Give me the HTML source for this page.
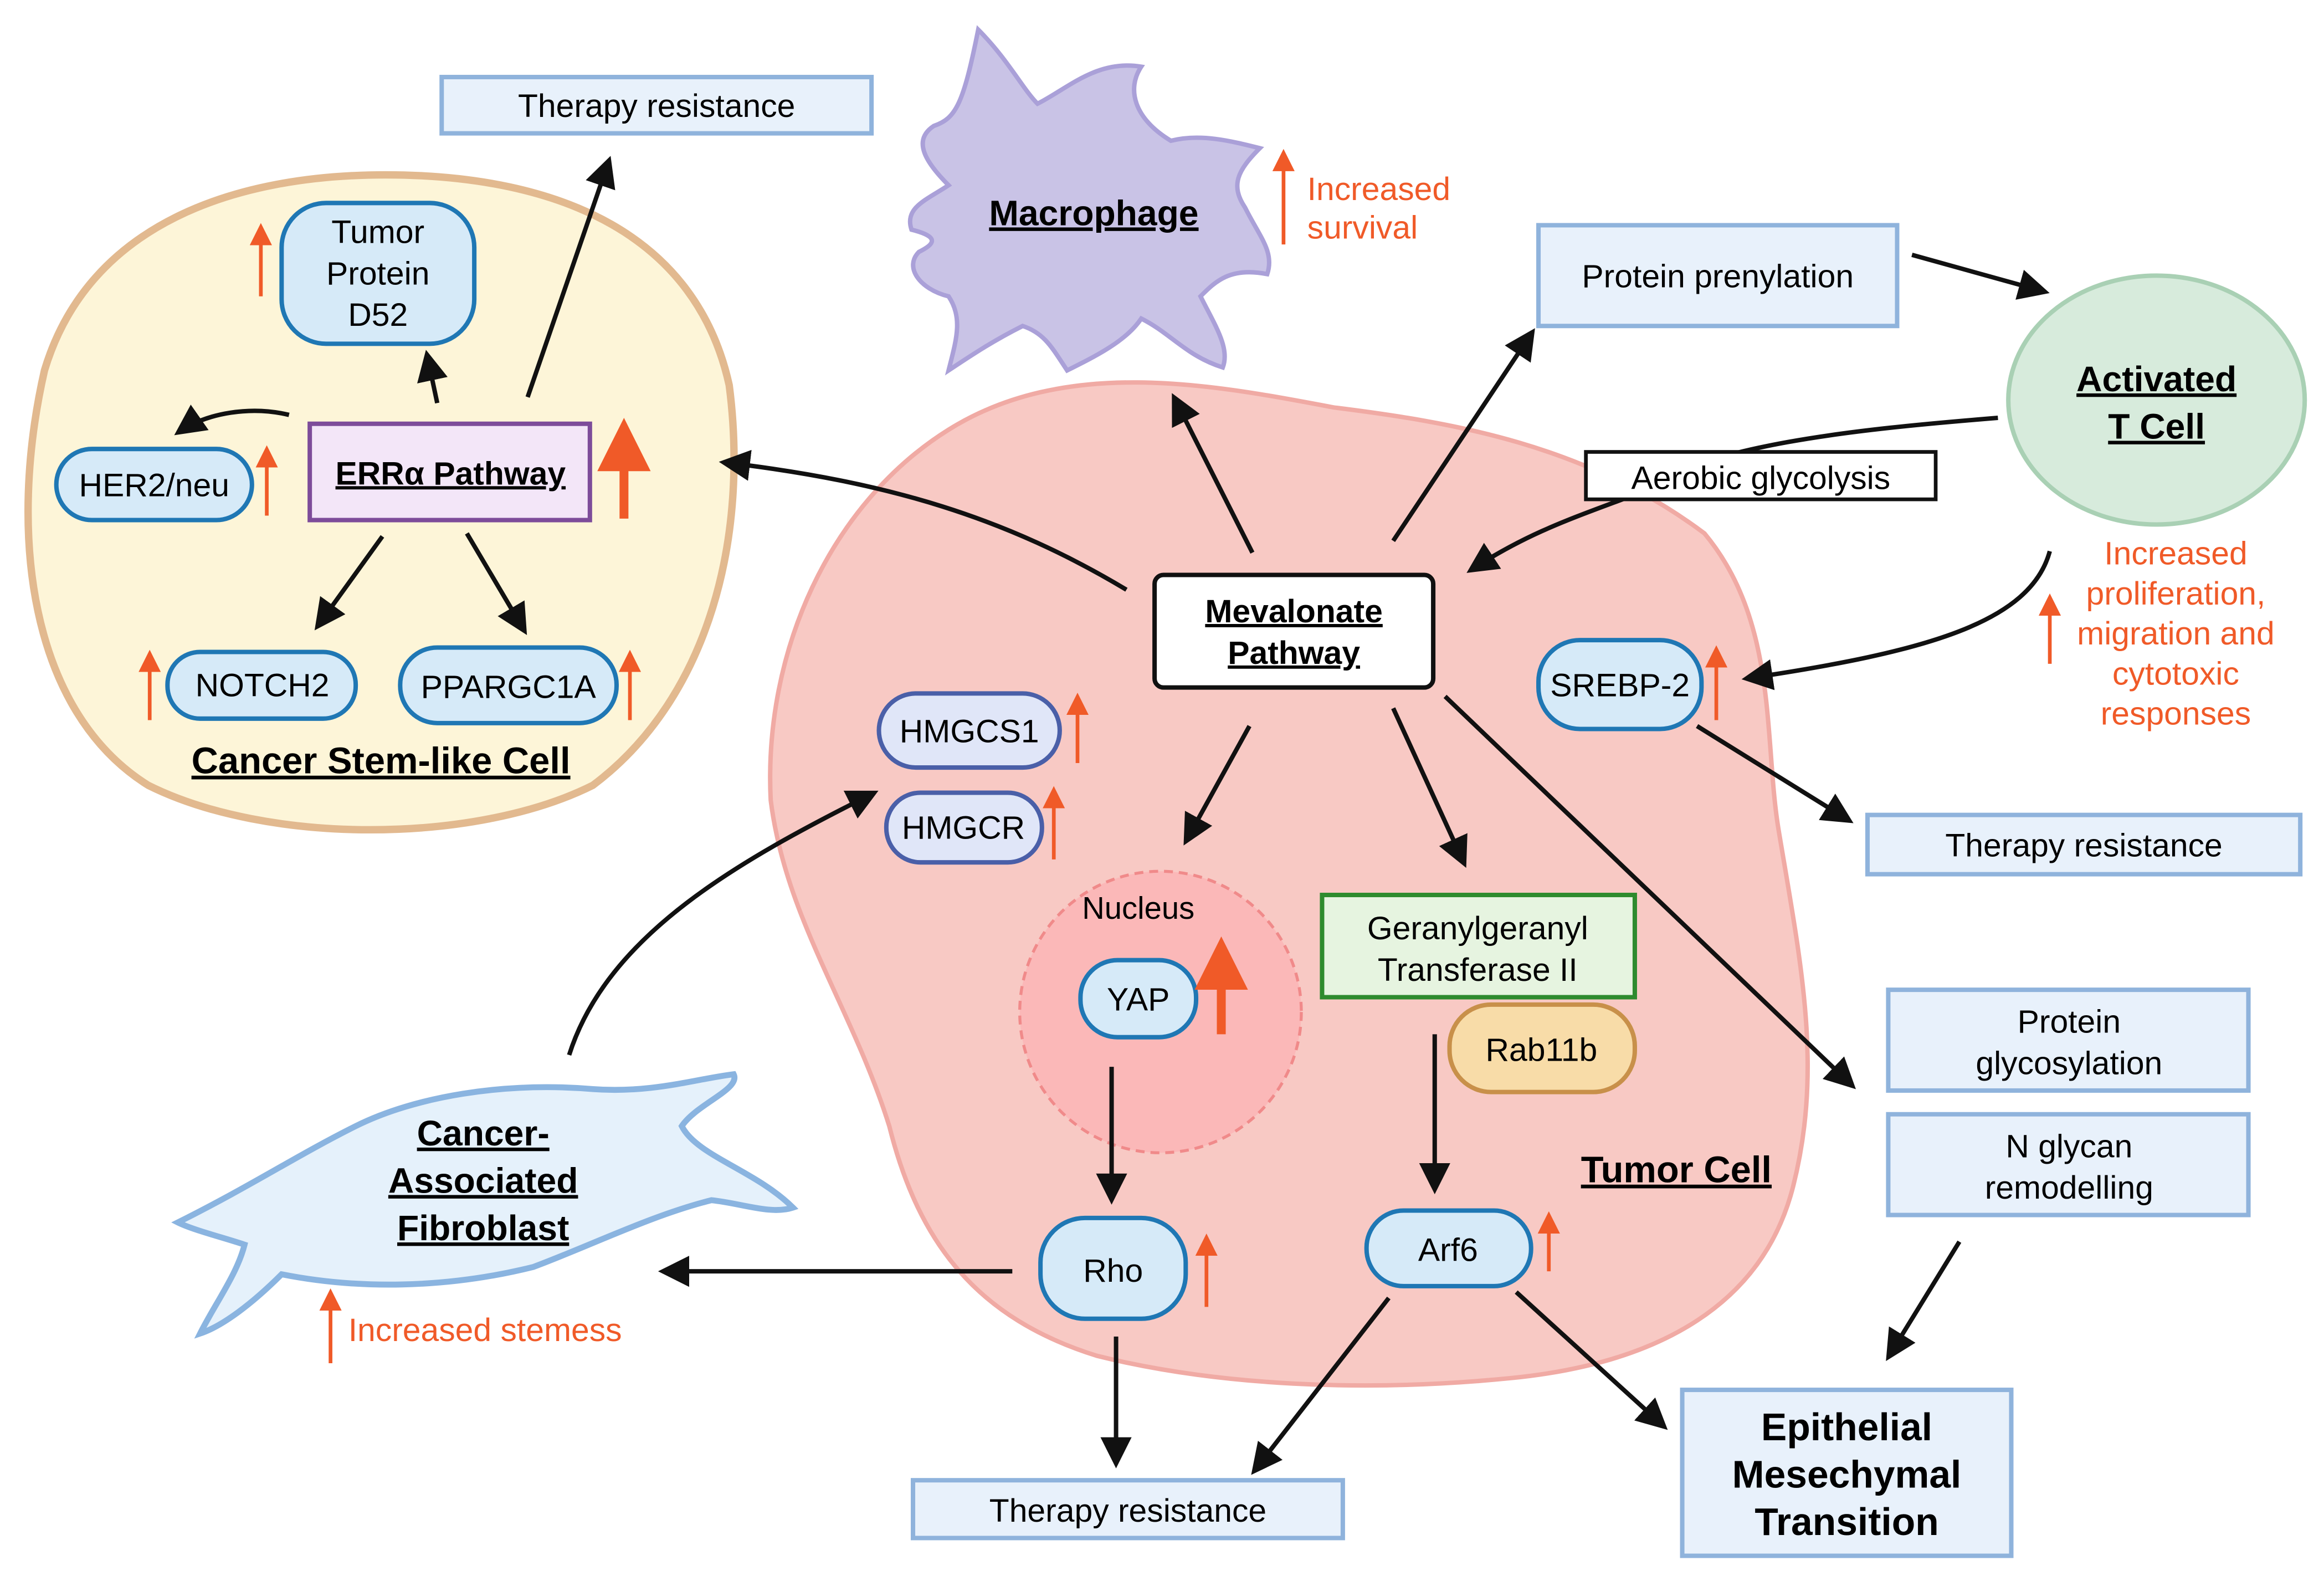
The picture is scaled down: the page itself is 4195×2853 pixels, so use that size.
<!DOCTYPE html>
<html><head><meta charset="utf-8"><style>
html,body{margin:0;padding:0;background:#fff;}
svg{display:block;}
text{font-family:"Liberation Sans",sans-serif;}
</style></head><body>
<svg width="4195" height="2853" viewBox="0 0 1568 1067" preserveAspectRatio="none" xmlns="http://www.w3.org/2000/svg">
<defs>
<marker id="a" markerWidth="8" markerHeight="8" refX="6" refY="4" orient="auto" markerUnits="strokeWidth"><path d="M0,0.5 L7,4 L0,7.5 z" fill="#111"/></marker>
<marker id="r" markerWidth="6" markerHeight="6" refX="3" refY="3" orient="auto" markerUnits="strokeWidth"><path d="M0,0 L6,3 L0,6 z" fill="#f05a28"/></marker>
</defs>
<rect width="1568" height="1067" fill="#fff"/>

<!-- Tumor cell -->
<path d="M640,290 C720,240 820,260 900,275 C980,285 1070,300 1150,360 C1200,420 1190,500 1200,560 C1215,650 1230,720 1210,800 C1190,880 1120,920 1020,930 C920,940 820,935 740,915 C660,890 620,840 600,760 C575,680 530,620 520,540 C515,440 560,340 640,290 Z" fill="#f8c9c4" stroke="#f0aaa4" stroke-width="3"/>

<!-- CSC cell -->
<path d="M30,250 C60,150 160,118 260,118 C380,118 470,160 492,260 C505,360 480,470 400,530 C320,570 180,570 100,530 C20,480 5,360 30,250 Z" fill="#fdf5d8" stroke="#e2b98f" stroke-width="5"/>

<!-- Macrophage -->
<path d="M660,20 C680,40 690,60 700,70 C720,60 740,40 770,45 C760,60 765,80 790,95 C810,90 830,95 850,100 C835,115 830,125 840,140 C850,160 860,170 855,185 C830,180 820,190 810,200 C820,220 830,235 825,248 C800,240 790,225 770,215 C760,230 740,240 720,250 C710,235 705,225 690,220 C670,230 655,240 640,250 C645,230 650,215 640,200 C620,195 610,180 620,170 C630,165 635,160 615,155 C610,140 625,135 640,125 C625,110 615,95 630,85 C645,80 650,70 660,20 Z" fill="#c9c3e6" stroke="#aaa0d8" stroke-width="3"/>
<text x="738" y="152" font-size="24" font-weight="bold" text-anchor="middle" text-decoration="underline">Macrophage</text>

<!-- CAF -->
<path d="M120,825 C170,800 200,780 240,760 C280,740 340,730 400,735 C440,738 470,728 495,725 C500,735 470,745 460,760 C470,780 510,790 535,815 C520,820 500,812 480,810 C440,820 400,840 360,855 C300,870 240,870 190,860 C170,880 150,895 135,900 C145,880 160,860 165,840 C150,835 130,830 120,825 Z" fill="#e5f1fb" stroke="#8ab4e0" stroke-width="4"/>
<text font-size="24" font-weight="bold" text-anchor="middle" text-decoration="underline"><tspan x="326" y="773">Cancer-</tspan><tspan x="326" y="805">Associated</tspan><tspan x="326" y="837">Fibroblast</tspan></text>

<!-- T cell -->
<ellipse cx="1455" cy="270" rx="100" ry="84" fill="#d7ebdc" stroke="#a9d0b4" stroke-width="3"/>
<text font-size="24" font-weight="bold" text-anchor="middle" text-decoration="underline"><tspan x="1455" y="264">Activated</tspan><tspan x="1455" y="296">T Cell</tspan></text>

<!-- Nucleus -->
<circle cx="783" cy="683" r="95" fill="#fbb8b8" stroke="#f08a8a" stroke-width="2" stroke-dasharray="6,4"/>
<text x="768" y="620" font-size="21" text-anchor="middle">Nucleus</text>

<!-- aerobic arrow (behind box) -->
<path d="M1348,282 C1250,290 1150,300 1100,335 C1060,350 1030,360 992,385" stroke="#111" stroke-width="3" fill="none" marker-end="url(#a)"/>

<!-- boxes -->
<g fill="#e8f1fb" stroke="#8fb3dc" stroke-width="3">
<rect x="298" y="52" width="290" height="38"/>
<rect x="1038" y="152" width="242" height="68"/>
<rect x="1260" y="550" width="292" height="40"/>
<rect x="1274" y="668" width="243" height="68"/>
<rect x="1274" y="752" width="243" height="68"/>
<rect x="1135" y="938" width="222" height="112"/>
<rect x="616" y="999" width="290" height="39"/>
</g>
<g font-size="22" text-anchor="middle">
<text x="443" y="79">Therapy resistance</text>
<text x="1159" y="194">Protein prenylation</text>
<text x="1406" y="578">Therapy resistance</text>
<text x="1396" y="697">Protein</text><text x="1396" y="725">glycosylation</text>
<text x="1396" y="781">N glycan</text><text x="1396" y="809">remodelling</text>
<text x="761" y="1027">Therapy resistance</text>
</g>
<text font-size="26" font-weight="bold" text-anchor="middle"><tspan x="1246" y="972">Epithelial</tspan><tspan x="1246" y="1004">Mesechymal</tspan><tspan x="1246" y="1036">Transition</tspan></text>

<rect x="1070" y="305" width="236" height="32" fill="#fff" stroke="#111" stroke-width="2.5"/>
<text x="1188" y="330" font-size="22" text-anchor="middle">Aerobic glycolysis</text>

<rect x="779" y="388" width="188" height="76" rx="6" fill="#fff" stroke="#111" stroke-width="3"/>
<text font-size="22" font-weight="bold" text-anchor="middle" text-decoration="underline"><tspan x="873" y="420">Mevalonate</tspan><tspan x="873" y="448">Pathway</tspan></text>

<rect x="209" y="286" width="189" height="65" fill="#f3e6f8" stroke="#7d4c9a" stroke-width="3"/>
<text x="304" y="327" font-size="22" font-weight="bold" text-anchor="middle" text-decoration="underline">ERRα Pathway</text>

<rect x="892" y="604" width="211" height="69" fill="#e6f4e0" stroke="#2e8b2e" stroke-width="3"/>
<text x="997" y="634" font-size="22" text-anchor="middle">Geranylgeranyl</text><text x="997" y="662" font-size="22" text-anchor="middle">Transferase II</text>

<!-- pills -->
<g fill="#d6eaf8" stroke="#1f77b4" stroke-width="3">
<rect x="190" y="137" width="130" height="95" rx="30"/>
<rect x="38" y="303" width="132" height="48" rx="24"/>
<rect x="113" y="440" width="127" height="45" rx="22"/>
<rect x="270" y="437" width="146" height="51" rx="25"/>
<rect x="1038" y="432" width="110" height="60" rx="28"/>
<rect x="729" y="648" width="78" height="52" rx="25"/>
<rect x="702" y="822" width="98" height="68" rx="30"/>
<rect x="922" y="817" width="111" height="51" rx="25"/>
</g>
<g fill="#e0e6f8" stroke="#4a5fa8" stroke-width="3">
<rect x="593" y="468" width="122" height="50" rx="25"/>
<rect x="598" y="535" width="105" height="47" rx="23"/>
</g>
<rect x="978" y="678" width="125" height="59" rx="28" fill="#f8dca8" stroke="#c8904a" stroke-width="3"/>
<g font-size="22" text-anchor="middle">
<text x="255" y="164">Tumor</text><text x="255" y="192">Protein</text><text x="255" y="220">D52</text>
<text x="104" y="335">HER2/neu</text>
<text x="177" y="470">NOTCH2</text>
<text x="343" y="471">PPARGC1A</text>
<text x="1093" y="470">SREBP-2</text>
<text x="768" y="682">YAP</text>
<text x="751" y="865">Rho</text>
<text x="977" y="851">Arf6</text>
<text x="654" y="501">HMGCS1</text>
<text x="650" y="566">HMGCR</text>
<text x="1040" y="716">Rab11b</text>
</g>
<text x="257" y="522" font-size="25" font-weight="bold" text-anchor="middle" text-decoration="underline">Cancer Stem-like Cell</text>
<text x="1131" y="798" font-size="25" font-weight="bold" text-anchor="middle" text-decoration="underline">Tumor Cell</text>

<!-- red texts -->
<g fill="#f05a28" font-size="22">
<text x="882" y="135">Increased</text><text x="882" y="161">survival</text>
<text x="235" y="905">Increased stemess</text>
<g text-anchor="middle"><text x="1468" y="381">Increased</text><text x="1468" y="408">proliferation,</text><text x="1468" y="435">migration and</text><text x="1468" y="462">cytotoxic</text><text x="1468" y="489">responses</text></g>
</g>
<!-- red arrows -->
<g stroke="#f05a28" stroke-width="2.5" marker-end="url(#r)">
<line x1="866" y1="165" x2="866" y2="108"/>
<line x1="223" y1="920" x2="223" y2="877"/>
<line x1="1383" y1="448" x2="1383" y2="408"/>
<line x1="176" y1="200" x2="176" y2="158"/>
<line x1="180" y1="348" x2="180" y2="308"/>
<line x1="101" y1="486" x2="101" y2="446"/>
<line x1="425" y1="486" x2="425" y2="446"/>
<line x1="1158" y1="486" x2="1158" y2="443"/>
<line x1="727" y1="515" x2="727" y2="475"/>
<line x1="711" y1="580" x2="711" y2="538"/>
<line x1="814" y1="882" x2="814" y2="840"/>
<line x1="1045" y1="858" x2="1045" y2="825"/>
</g>
<g stroke="#f05a28" stroke-width="6" marker-end="url(#r)">
<line x1="421" y1="350" x2="421" y2="300"/>
<line x1="824" y1="698" x2="824" y2="650"/>
</g>

<!-- black arrows -->
<g stroke="#111" stroke-width="3" fill="none" marker-end="url(#a)">
<line x1="1290" y1="172" x2="1380" y2="197"/>
<path d="M1383,372 C1370,420 1300,440 1178,458"/>
<line x1="1145" y1="490" x2="1248" y2="554"/>
<line x1="1322" y1="838" x2="1274" y2="916"/>
<path d="M760,398 C680,350 600,325 488,312"/>
<line x1="845" y1="373" x2="792" y2="268"/>
<line x1="940" y1="365" x2="1034" y2="224"/>
<line x1="843" y1="490" x2="800" y2="568"/>
<line x1="940" y1="478" x2="988" y2="583"/>
<line x1="975" y1="470" x2="1250" y2="733"/>
<line x1="750" y1="720" x2="750" y2="810"/>
<line x1="968" y1="698" x2="968" y2="803"/>
<line x1="683" y1="858" x2="447" y2="858"/>
<line x1="753" y1="902" x2="753" y2="988"/>
<line x1="937" y1="876" x2="846" y2="993"/>
<line x1="1023" y1="872" x2="1123" y2="963"/>
<path d="M384,712 C410,630 500,580 590,535"/>
<line x1="295" y1="272" x2="288" y2="239"/>
<path d="M195,280 C170,274 140,278 120,292"/>
<line x1="258" y1="362" x2="214" y2="423"/>
<line x1="315" y1="360" x2="354" y2="426"/>
<line x1="356" y1="268" x2="411" y2="108"/>
</g>
</svg>
</body></html>
